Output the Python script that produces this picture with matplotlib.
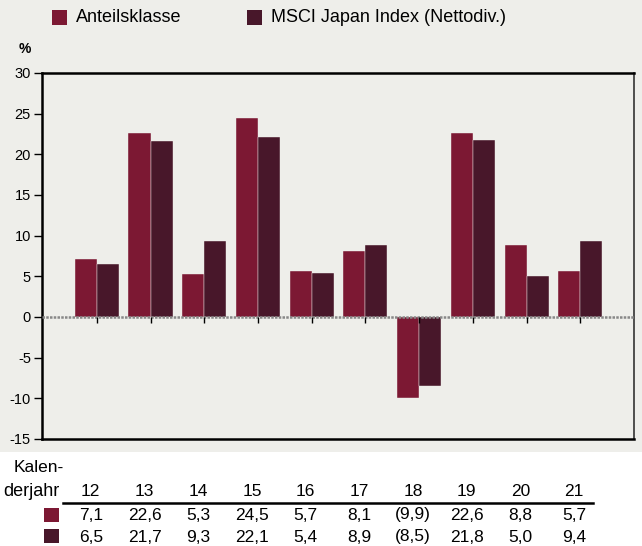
import numpy as np
import matplotlib
matplotlib.use('Agg')
import matplotlib.pyplot as plt
from matplotlib.patches import Rectangle

years = ['12', '13', '14', '15', '16', '17', '18', '19', '20', '21']
fund = [7.1, 22.6, 5.3, 24.5, 5.7, 8.1, -9.9, 22.6, 8.8, 5.7]
index = [6.5, 21.7, 9.3, 22.1, 5.4, 8.9, -8.5, 21.8, 5.0, 9.4]
fund_label = 'Anteilsklasse'
index_label = 'MSCI Japan Index (Nettodiv.)'

c_fund = '#7c1833'
c_index = '#48172a'
bg = '#eeeeea'

plt.rcParams['font.family'] = ['Liberation Sans', 'DejaVu Sans']
plt.rcParams['axes.unicode_minus'] = False

W, H = 642, 546
fig = plt.figure(figsize=(W / 100, H / 100), dpi=100)
fig.patch.set_facecolor('white')


def box(x0, y0, w, h, color, z=1):
    # pixel coords from top-left
    fig.patches.append(Rectangle((x0 / W, 1 - (y0 + h) / H), w / W, h / H,
                                 transform=fig.transFigure, facecolor=color,
                                 edgecolor='none', zorder=z))


box(0, 0, W, 452, bg, z=-10)

ax = fig.add_axes([42 / W, 1 - 439 / H, 592 / W, 366 / H])
ax.set_facecolor(bg)

x = np.arange(len(years))
w = 0.41
ax.bar(x - w / 2, fund, w, color=c_fund, edgecolor=bg, lw=0.3, zorder=2)
ax.bar(x + w / 2, index, w, color=c_index, edgecolor=bg, lw=0.3, zorder=2)
ax.axhline(0, color='#888888', lw=1.8, ls=(0, (1, 0.5)), zorder=3)
ax.vlines(x, -0.75, 0, color='black', lw=1, zorder=4)

ax.set_xlim(-1.02, 10.0)
ax.set_ylim(-15, 30)
ax.set_yticks(range(-15, 31, 5))
ax.set_xticks([])
ax.tick_params(axis='y', direction='out', length=6, width=1, labelsize=10.5, pad=2)
for s in ax.spines.values():
    s.set_linewidth(1.8)
    s.set_color('black')
ax.spines['right'].set_color('#333333')
ax.spines['right'].set_linewidth(1.2)

# legend
box(52, 10, 15, 15, c_fund)
fig.text(76 / W, 1 - 17 / H, fund_label, fontsize=13, va='center')
box(247, 10, 15, 15, c_index)
fig.text(271 / W, 1 - 17 / H, index_label, fontsize=13, va='center')
fig.text(19 / W, 1 - 49 / H, '%', fontsize=10, va='center', fontweight='bold')

# table below
fig.text(14 / W, 1 - 468 / H, 'Kalen-', fontsize=12.5, va='center')
fig.text(3 / W, 1 - 491 / H, 'derjahr', fontsize=13, va='center')
fig.add_artist(plt.Line2D([63 / W, 593 / W], [1 - 503 / H, 1 - 503 / H],
                          transform=fig.transFigure, color='black', lw=1.8))


def fmt(v):
    s = f'{abs(v):.1f}'.replace('.', ',')
    return f'({s})' if v < 0 else s


def to_fig(xd):
    return fig.transFigure.inverted().transform(ax.transData.transform((xd, 0)))[0]


for i, yr in enumerate(years):
    xf = to_fig(i) - 6 / W
    fig.text(xf, 1 - 491 / H, yr, fontsize=12.5, ha='center', va='center')
    fig.text(xf, 1 - 515 / H, fmt(fund[i]), fontsize=12.5, ha='center', va='center')
    fig.text(xf, 1 - 537 / H, fmt(index[i]), fontsize=12.5, ha='center', va='center')

box(44, 508, 15, 14, c_fund)
box(44, 529, 15, 14, c_index)

fig.savefig('out.png', dpi=100, facecolor=fig.get_facecolor())
